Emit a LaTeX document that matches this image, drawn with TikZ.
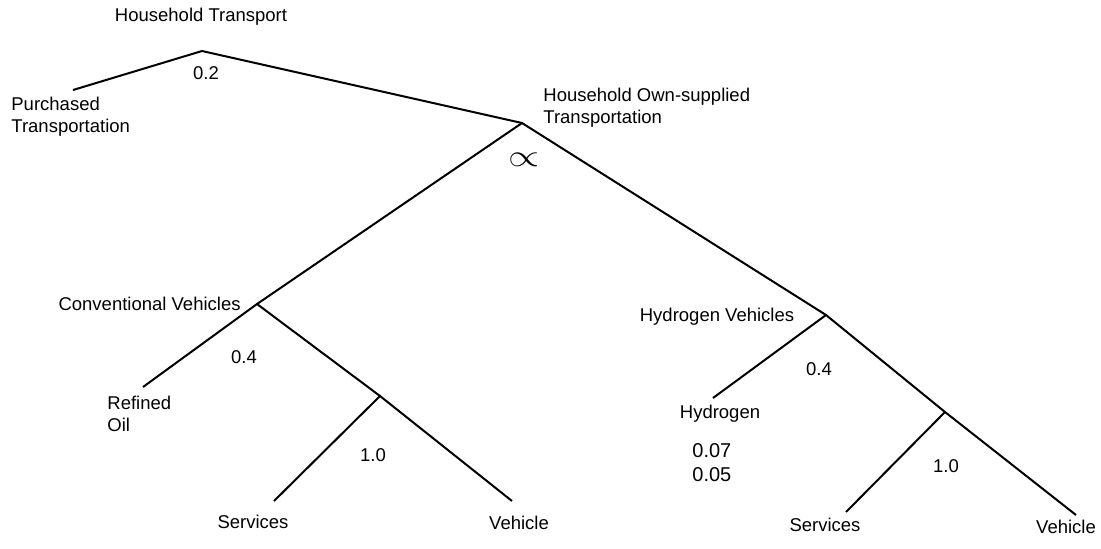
\documentclass[tikz,border=0pt]{standalone}
\usepackage{fontspec}
\setmainfont{Liberation Sans}
\begin{document}
\begin{tikzpicture}[x=0.5pt,y=-0.5pt,
  lbl/.style={inner sep=0pt,font=\fontsize{9.25}{11}\selectfont},
  big/.style={inner sep=0pt,font=\fontsize{10}{12}\selectfont},
  branch/.style={line width=1pt,line cap=butt}]
\useasboundingbox (0,0) rectangle (1101,548);
% branch points and ends
\coordinate (ht) at (202,51);
\coordinate (pt) at (73,90);
\coordinate (ho) at (522,123);
\coordinate (cv) at (257,304);
\coordinate (ro) at (143,387);
\coordinate (cs) at (380,396);
\coordinate (cse) at (274,501);
\coordinate (cve) at (512,501);
\coordinate (hv) at (826,315);
\coordinate (hy) at (713,398);
\coordinate (hs) at (945,412);
\coordinate (hse) at (846,512);
\coordinate (hve) at (1076,515);
% connectors
\draw[branch] (pt) -- (ht) -- (ho);
\draw[branch] (cv) -- (ho) -- (hv);
\draw[branch] (ro) -- (cv) -- (cs);
\draw[branch] (cse) -- (cs) -- (cve);
\draw[branch] (hy) -- (hv) -- (hs) -- (hve);
\draw[branch] (hse) -- (hs);
% labels
\node[lbl] (tHT) at (201,17) {Household Transport};
\node[lbl] (t02) at (206,73) {0.2};
\node[lbl,align=left,anchor=west] (tPT) at (11,117) {Purchased\\Transportation};
\node[lbl,align=left,anchor=west] (tHO) at (543,108) {Household Own-supplied\\Transportation};
\node[inner sep=0pt] (tprop) at (524,160) {\scalebox{2}[1.55]{$\propto$}};
\node[lbl,anchor=east] (tCV) at (241,304) {Conventional Vehicles};
\node[lbl] (t04a) at (244,357) {0.4};
\node[lbl,align=left,anchor=west] (tRO) at (107,414) {Refined\\Oil};
\node[lbl] (t10a) at (373,455) {1.0};
\node[lbl] (tSa) at (253,522) {Services};
\node[lbl] (tVa) at (519,523) {Vehicle};
\node[lbl] (tHV) at (717,317) {Hydrogen Vehicles};
\node[lbl] (t04b) at (819,369) {0.4};
\node[lbl] (tHY) at (720,414) {Hydrogen};
\node[big,align=left,anchor=west] (tnum) at (692,463) {0.07\\0.05};
\node[lbl] (t10b) at (946,466) {1.0};
\node[lbl] (tSb) at (825,525) {Services};
\node[lbl] (tVb) at (1066,527) {Vehicle};
\end{tikzpicture}
\end{document}
